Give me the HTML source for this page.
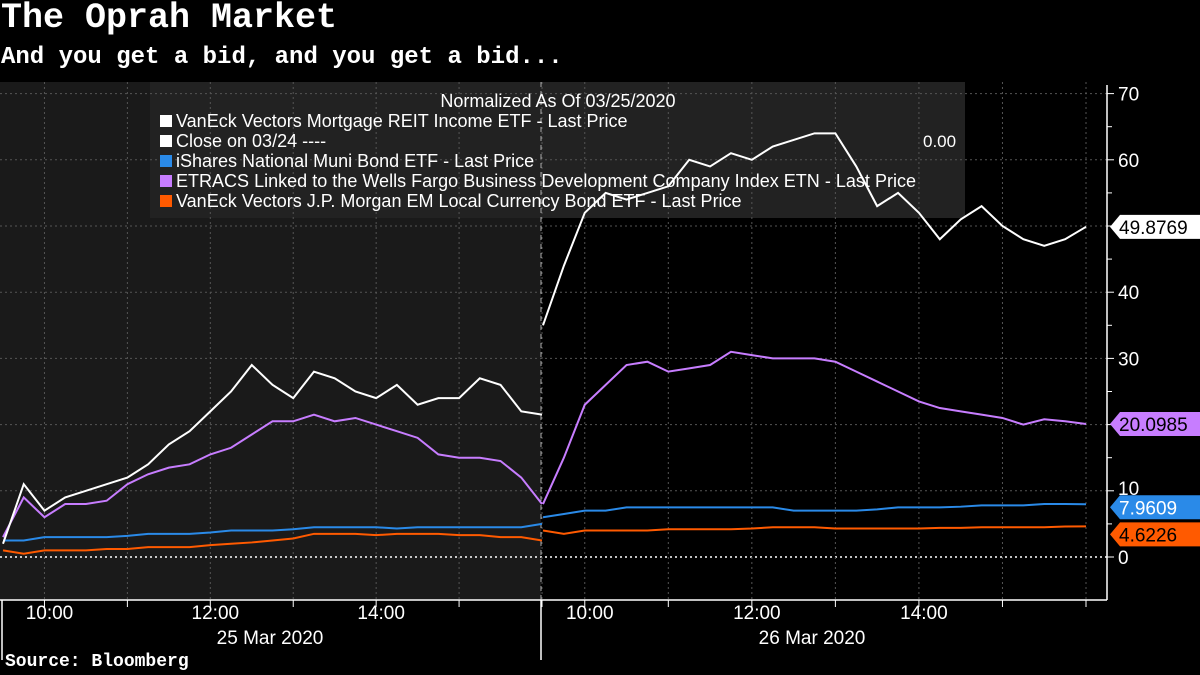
<!DOCTYPE html>
<html><head><meta charset="utf-8">
<style>
body{margin:0;background:#000;width:1200px;height:675px;overflow:hidden;font-family:"Liberation Sans","DejaVu Sans",sans-serif}
.t{position:absolute;color:#fff;font-family:"Liberation Mono",monospace;font-weight:bold;white-space:nowrap}
</style></head><body>
<div class="t" style="left:1px;top:-2px;font-size:35px;">The Oprah Market</div>
<div class="t" style="left:1px;top:44px;font-size:24px;">And you get a bid, and you get a bid...</div>
<div class="t" style="left:5px;top:652px;font-size:18px;">Source: Bloomberg</div>
<svg id="c" width="1200" height="675" style="position:absolute;left:0;top:0"></svg>
<script>
const ticks=[0,10,20,30,40,50,60,70];
const wh1=[2,11,7,9,10,11,12,14,17,19,22,25,29,26,24,28,27,25,24,26,23,24,24,27,26,22,21.5];
const pu1=[3,9,6,8,8,8.5,11,12.5,13.5,14,15.5,16.5,18.5,20.5,20.5,21.5,20.5,21,20,19,18,15.5,15,15,14.5,12,8];
const bl1=[2.5,2.5,3,3,3,3,3.2,3.5,3.5,3.5,3.7,4,4,4,4.2,4.5,4.5,4.5,4.5,4.3,4.5,4.5,4.5,4.5,4.5,4.5,5];
const or1=[1,0.5,1,1,1,1.2,1.2,1.5,1.5,1.5,1.8,2,2.2,2.5,2.8,3.5,3.5,3.5,3.3,3.5,3.5,3.5,3.3,3.3,3,3,2.5];
const wh2=[35,44,52,55,54,55,56,60,59,61,60,62,63,64,64,59,53,55,52,48,51,53,50,48,47,48,49.8769];
const pu2=[8,15,23,26,29,29.5,28,28.5,29,31,30.5,30,30,30,29.5,28,26.5,25,23.5,22.5,22,21.5,21,20,20.8,20.5,20.0985];
const bl2=[6,6.5,7,7,7.5,7.5,7.5,7.5,7.5,7.5,7.5,7.5,7,7,7,7,7.2,7.5,7.5,7.5,7.6,7.8,7.8,7.8,8,8,7.9609];
const or2=[4,3.5,4,4,4,4,4.2,4.2,4.2,4.2,4.3,4.5,4.5,4.5,4.3,4.3,4.3,4.3,4.3,4.4,4.4,4.5,4.5,4.5,4.5,4.6,4.6226];
const lastLabels=["49.8769","20.0985","7.9609","4.6226"];
const hourLabels=["10:00","12:00","14:00"];
const svg=document.getElementById('c');const NS='http://www.w3.org/2000/svg';
function el(t,a,p){const e=document.createElementNS(NS,t);for(const k in a)e.setAttribute(k,a[k]);(p||svg).appendChild(e);return e;}
const y=v=>557-6.62*v;
const x1=i=>3+i*(539/26), x2=i=>543+i*(543/26);
let e;
e=el('rect',{x:0,y:82,width:541,height:518,fill:'#1a1a1a'});

e=el('rect',{x:150,y:82,width:815,height:136,fill:'#222'});

ticks.forEach(t=>{
 e=el('line',{x1:0,x2:1107,y1:y(t),y2:y(t),stroke:t==0?'#fff':'#555','stroke-dasharray':'2,3','stroke-width':t==0?1.5:1});
 
 e=el('line',{x1:1107,x2:1114,y1:y(t),y2:y(t),stroke:'#fff'});
 
 if(t<70){e=el('line',{x1:1107,x2:1112,y1:y(t+5),y2:y(t+5),stroke:'#fff'});
 }
 if(t!=0&&t!=50&&t!=10){e=el('text',{x:1118,y:y(t)+7,fill:'#fff','font-size':19});e.textContent=t;
 }
});
e=el('text',{x:1118,y:y(10)+4,fill:'#fff','font-size':19});e.textContent='10';

e=el('text',{x:1118,y:y(0)+7,fill:'#fff','font-size':19});e.textContent='0';

for(let h=0;h<7;h++){[x1(2+h*4),x2(2+h*4)].forEach(xx=>{if(xx<1090){
 e=el('line',{x1:xx,x2:xx,y1:82,y2:600,stroke:'#555','stroke-dasharray':'2,3'});
 
 e=el('line',{x1:xx,x2:xx,y1:600,y2:607,stroke:'#fff'});
 }});}
e=el('line',{x1:541,x2:541,y1:82,y2:600,stroke:'#aaa','stroke-dasharray':'5,4'});

e=el('line',{x1:1107,x2:1107,y1:85,y2:600,stroke:'#fff','stroke-width':1.5});

e=el('line',{x1:0,x2:1107,y1:600,y2:600,stroke:'#fff','stroke-width':1.5});

[2,541].forEach(xx=>{e=el('line',{x1:xx,x2:xx,y1:600,y2:660,stroke:'#fff','stroke-width':1.5});
});
hourLabels.forEach((l,i)=>{[x1(2+i*8),x2(2+i*8)].forEach(xx=>{
 e=el('text',{x:xx+5,y:619,fill:'#fff','font-size':19,'text-anchor':'middle'});e.textContent=l;
 });});
[['25 Mar 2020',270],['26 Mar 2020',812]].forEach(d=>{e=el('text',{x:d[1],y:644,fill:'#fff','font-size':19,'text-anchor':'middle'});e.textContent=d[0];
});
const series=[[wh1,wh2,'#fff','mortgage-reit'],[pu1,pu2,'#c77dff','etracs-bdc'],[bl1,bl2,'#2a8ae8','muni-bond'],[or1,or2,'#ff5a00','em-local-bond']];
series.slice().reverse().forEach(s=>{
 [[s[0],x1],[s[1],x2]].forEach((p,k)=>{
  e=el('polyline',{points:p[0].map((v,i)=>p[1](i)+','+y(v)).join(' '),fill:'none',stroke:s[2],'stroke-width':2});
  
 });
});
const lblY=[y(wh2[26]),y(pu2[26]),y(bl2[26])+3,y(or2[26])+8];
const lblBg=['#fff','#c77dff','#2a8ae8','#ff5a00'],lblFg=['#000','#000','#fff','#000'];
lastLabels.forEach((l,i)=>{const yy=lblY[i];
 e=el('polygon',{points:`1110,${yy} 1120,${yy-12} 1200,${yy-12} 1200,${yy+12} 1120,${yy+12}`,fill:lblBg[i]});
 
 e=el('text',{x:1119,y:yy+7,fill:lblFg[i],'font-size':19});e.textContent=l;
 
});
e=el('text',{x:558,y:107,fill:'#fff','font-size':18,'text-anchor':'middle'});e.textContent='Normalized As Of 03/25/2020';

e=el('text',{x:923,y:147,fill:'#fff','font-size':17});e.textContent='0.00';

const legTxt=['VanEck Vectors Mortgage REIT Income ETF - Last Price','Close on 03/24 ----','iShares National Muni Bond ETF - Last Price','ETRACS Linked to the Wells Fargo Business Development Company Index ETN - Last Price','VanEck Vectors J.P. Morgan EM Local Currency Bond ETF - Last Price'];
const legCol=['#fff','#fff','#2a8ae8','#c77dff','#ff5a00'];
legTxt.forEach((t,i)=>{const yy=127+i*20;
 e=el('rect',{x:160,y:yy-12,width:12,height:12,fill:legCol[i]});
 
 e=el('text',{x:176,y:yy,fill:'#fff','font-size':18,textLength:(i==3?740:0)||null});
 if(i!=3)e.removeAttribute('textLength');
 e.textContent=t;
 
});
</script>
</body></html>
